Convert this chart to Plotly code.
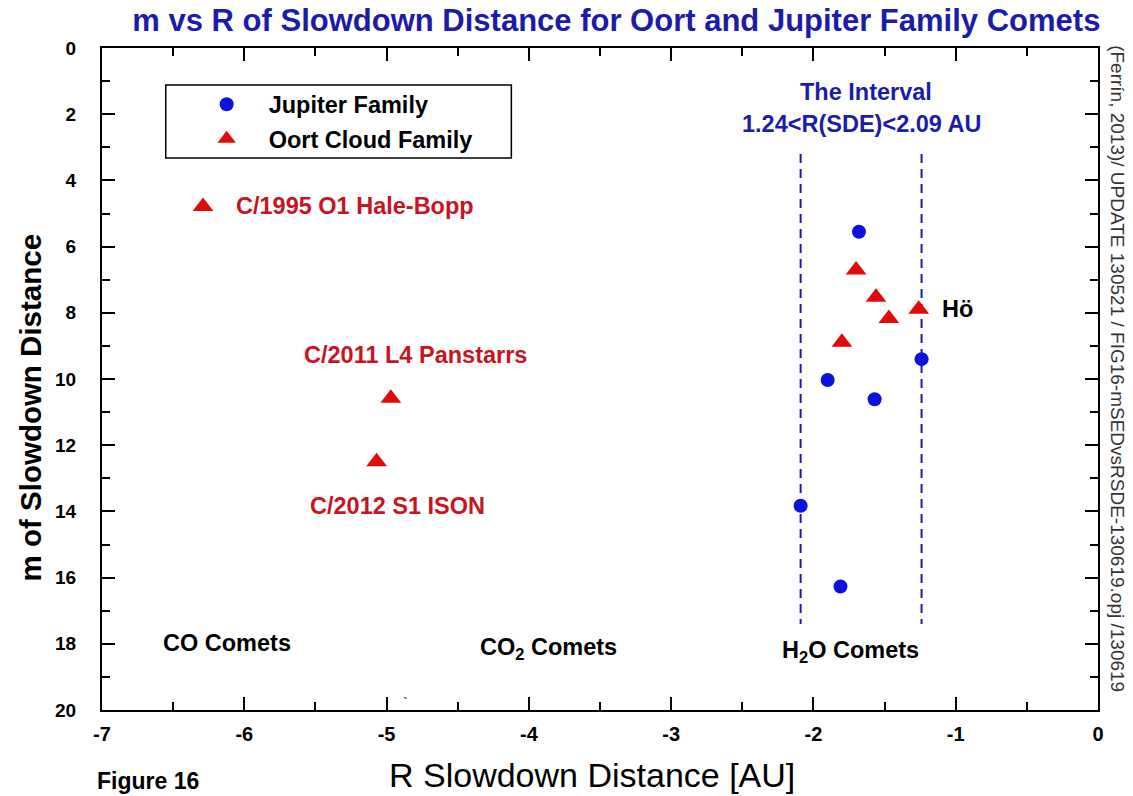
import plotly.graph_objects as go

# Jupiter family comets: slowdown distance R [AU] and magnitude m
jf_r = [-1.68, -1.24, -1.90, -1.57, -2.09, -1.81]
jf_m = [5.55, 9.40, 10.03, 10.61, 13.83, 16.27]

# Oort cloud comets
oc_r = [-1.70, -1.56, -1.47, -1.26, -1.80, -6.29, -4.97, -5.07]
oc_m = [6.71, 7.53, 8.17, 7.89, 8.89, 4.79, 10.58, 12.50]

# Water-driven interval bounds
interval_r = [-2.09, -1.24]
interval_m = [3.2, 17.4]

x_ticks = [-7, -6, -5, -4, -3, -2, -1, 0]
x_tick_text = ["-7", "-6", "-5", "-4", "-3", "-2", "-1", "0"]
y_ticks = [0, 2, 4, 6, 8, 10, 12, 14, 16, 18, 20]

BLUE = "#0c12dc"
RED = "#e00a0a"
DARK_BLUE = "#1c1ca8"
LABEL_RED = "#c8141e"
FONT = "Liberation Sans, Arial, sans-serif"

fig = go.Figure()

for r in interval_r:
    fig.add_trace(go.Scatter(
        x=[r, r], y=interval_m, mode="lines",
        line=dict(color=DARK_BLUE, width=2, dash="9px,6px"),
        showlegend=False, hoverinfo="skip"))

fig.add_trace(go.Scatter(
    x=jf_r, y=jf_m, mode="markers", name="Jupiter Family", legendgroup="jf",
    marker=dict(symbol="circle", size=14, color=BLUE, line=dict(width=0))))
fig.add_trace(go.Scatter(
    x=oc_r, y=oc_m, mode="markers", name="Oort Cloud Family", legendgroup="oc",
    marker=dict(symbol="triangle-up", size=18, color=RED, line=dict(width=0))))

axis_common = dict(
    showline=True, linecolor="black", linewidth=2, mirror="ticks",
    ticks="inside", ticklen=13, tickwidth=2, tickcolor="black",
    showgrid=False, zeroline=False,
)

fig.update_xaxes(
    **axis_common, range=[-7, 0], tickvals=x_ticks, ticktext=x_tick_text,
    minor=dict(ticks="inside", ticklen=8, tickwidth=2, dtick=0.5, tickcolor="black"),
    tickfont=dict(family=FONT, size=20, color="black", weight="bold"),
    ticklabelstandoff=5,
)
fig.update_yaxes(
    **axis_common, range=[20, 0], tickvals=y_ticks,
    minor=dict(ticks="inside", ticklen=8, tickwidth=2, dtick=1, tickcolor="black"),
    tickfont=dict(family=FONT, size=19, color="black", weight="bold"),
    ticklabelstandoff=20,
)

annotations = [
    dict(x=-6.07, y=4.77, text="C/1995 O1 Hale-Bopp", xanchor="left",
         font=dict(color=LABEL_RED)),
    dict(x=-4.80, y=9.27, text="C/2011 L4 Panstarrs", xanchor="center",
         font=dict(color=LABEL_RED)),
    dict(x=-4.92, y=13.85, text="C/2012 S1 ISON", xanchor="center",
         font=dict(color=LABEL_RED)),
    dict(x=-1.11, y=7.88, text="Hö", xanchor="left",
         font=dict(color="black")),
    dict(x=-1.63, y=1.33, text="The Interval", xanchor="center",
         font=dict(color=DARK_BLUE)),
    dict(x=-1.66, y=2.30, text="1.24<R(SDE)<2.09 AU", xanchor="center",
         font=dict(color=DARK_BLUE)),
    dict(x=-6.12, y=17.98, text="CO Comets", xanchor="center",
         font=dict(color="black")),
    dict(x=-3.86, y=18.15, text="CO<sub>2</sub> Comets", xanchor="center",
         font=dict(color="black")),
    dict(x=-1.74, y=18.24, text="H<sub>2</sub>O Comets", xanchor="center",
         font=dict(color="black")),
]
for a in annotations:
    a.update(xref="x", yref="y", showarrow=False, yanchor="middle")
    a["font"].update(family=FONT, size=23.5, weight="bold")
    fig.add_annotation(**a)

# Stray backtick left on the canvas near the bottom axis
fig.add_annotation(xref="x", yref="y", x=-4.87, y=19.8, text="`", showarrow=False,
                   font=dict(family=FONT, size=14, color="black"))

# Axis titles
fig.add_annotation(xref="paper", yref="paper", x=0.492, y=-0.098,
                   text="R Slowdown Distance [AU]", showarrow=False,
                   xanchor="center", yanchor="middle",
                   font=dict(family=FONT, size=34, color="black"))
fig.add_annotation(xref="paper", yref="paper", x=-0.072, y=0.456,
                   text="m of Slowdown Distance", showarrow=False, textangle=-90,
                   xanchor="center", yanchor="middle",
                   font=dict(family=FONT, size=29.5, color="black", weight="bold"))

# Footer label and file stamp
fig.add_annotation(xref="paper", yref="paper", x=-0.007, y=-0.107,
                   text="Figure 16", showarrow=False, xanchor="left", yanchor="middle",
                   font=dict(family=FONT, size=23, color="black", weight="bold"))
fig.add_annotation(xref="paper", yref="paper", x=1.02, y=0.515,
                   text="(Ferrín, 2013)/ UPDATE 130521 / FIG16-mSEDvsRSDE-130619.opj /130619",
                   textangle=90, showarrow=False, xanchor="center", yanchor="middle",
                   font=dict(family=FONT, size=19, color="#333333"))

# Legend frame
fig.add_shape(type="rect", xref="paper", yref="paper",
              x0=0.064, x1=0.411, y0=0.834, y1=0.944,
              line=dict(color="black", width=1.5), fillcolor="white", layer="below")

fig.update_layout(
    width=1133, height=796,
    margin=dict(l=102, r=35, t=48, b=86),
    paper_bgcolor="white", plot_bgcolor="white",
    title=dict(text="m vs R of Slowdown Distance for Oort and Jupiter Family Comets",
               x=0.544, xanchor="center", y=0.975, yanchor="middle",
               font=dict(family=FONT, size=31, color=DARK_BLUE, weight="bold")),
    legend=dict(x=0.083, y=0.948, xanchor="left", yanchor="top",
                bgcolor="rgba(0,0,0,0)", borderwidth=0,
                font=dict(family=FONT, size=23.5, color="black", weight="bold"),
                itemwidth=74, tracegroupgap=1),
    showlegend=True,
)

fig.write_html("out.html")
